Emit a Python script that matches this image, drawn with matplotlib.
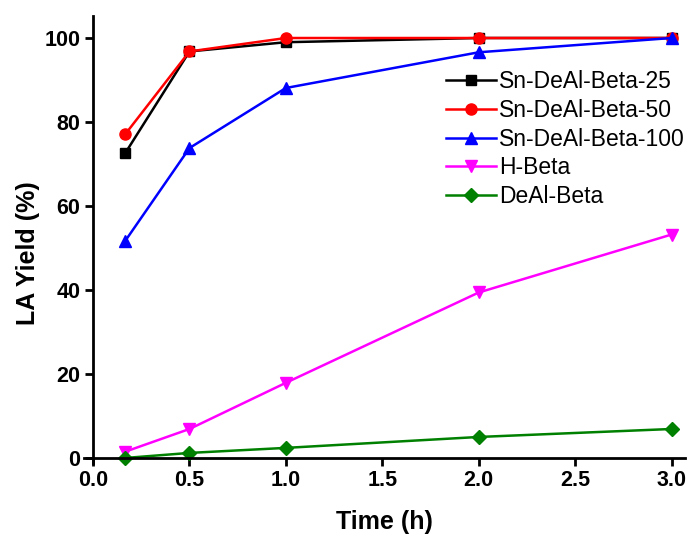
import matplotlib.pyplot as plt

plt.rcParams['font.family'] = ['Liberation Sans', 'DejaVu Sans']

# reaction time (h)
time_h = [0.167, 0.5, 1.0, 2.0, 3.0]

# LA yield (%)
sn25 = [72.6, 96.8, 99.0, 100.0, 100.0]
sn50 = [77.1, 96.8, 100.0, 100.0, 100.0]
sn100 = [51.7, 73.8, 88.1, 96.6, 100.0]
hbeta = [1.5, 6.9, 17.9, 39.4, 53.2]
deal = [0.0, 1.2, 2.4, 5.0, 6.9]

series = [
    ('Sn-DeAl-Beta-25', sn25, 'black', 's', 7),
    ('Sn-DeAl-Beta-50', sn50, 'red', 'o', 8),
    ('Sn-DeAl-Beta-100', sn100, 'blue', '^', 8),
    ('H-Beta', hbeta, 'magenta', 'v', 8),
    ('DeAl-Beta', deal, 'green', 'D', 7.5),
]

fig = plt.figure(figsize=(6.92, 5.39), dpi=100)
ax = fig.add_axes([0.1214, 0.141, 0.8685, 0.829])

for name, vals, col, mk, ms in series:
    ax.plot(time_h, vals, color=col, marker=mk, markersize=ms, linewidth=1.8,
            label=name, clip_on=False)

ax.set_xlim(-0.047, 3.07)
ax.set_ylim(-1.2, 105.2)
ax.spines['left'].set_position(('data', 0))
ax.spines['bottom'].set_position(('data', 0))
ax.spines['top'].set_visible(False)
ax.spines['right'].set_visible(False)
for s in ('left', 'bottom'):
    ax.spines[s].set_linewidth(2)

ax.set_xticks([0.0, 0.5, 1.0, 1.5, 2.0, 2.5, 3.0])
ax.set_xticklabels(['0.0', '0.5', '1.0', '1.5', '2.0', '2.5', '3.0'])
ax.set_yticks([0, 20, 40, 60, 80, 100])
ax.tick_params(direction='out', length=6, width=2, labelsize=15.5, pad=3)
for lab in ax.get_xticklabels() + ax.get_yticklabels():
    lab.set_fontweight('bold')

ax.set_xlabel('Time (h)', fontsize=18, fontweight='bold')
ax.set_ylabel('LA Yield (%)', fontsize=18, fontweight='bold')
ax.yaxis.set_label_coords(-0.073, 0.47)
ax.xaxis.set_label_coords(0.5, -0.105)

ax.legend(loc='upper right', bbox_to_anchor=(1.027, 0.915), frameon=False,
          fontsize=16.5, handlelength=2.2, labelspacing=0.25, handletextpad=0.15,
          borderpad=0.2)

fig.savefig('out.png', dpi=100)
